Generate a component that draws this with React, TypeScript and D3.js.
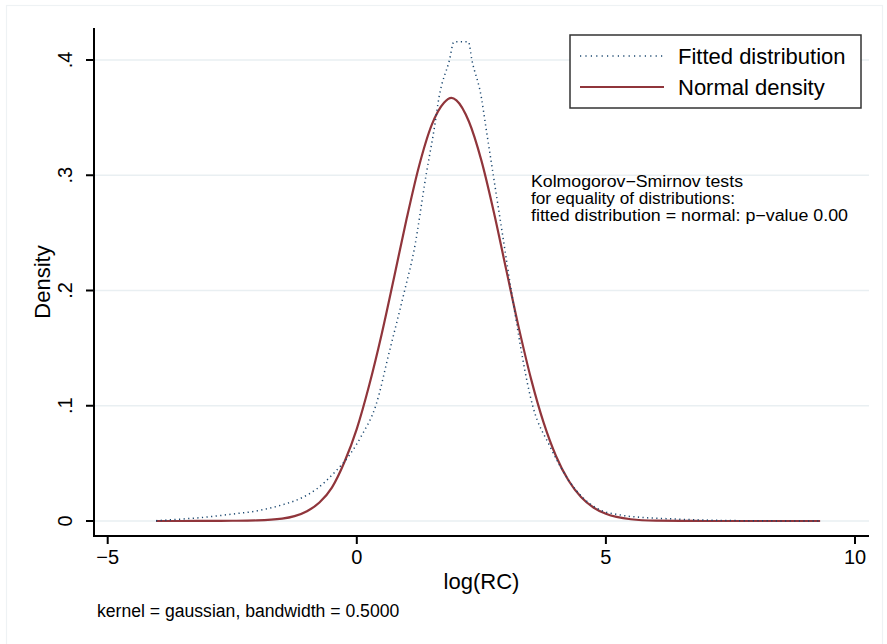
import React from 'react';
import * as d3 from 'd3';

// values
const fittedX = [-4.03, -3.5, -3.0, -2.5, -2.0, -1.5, -1.15, -0.8, -0.45, -0.15, 0.1, 0.38, 0.66, 0.96, 1.15, 1.39, 1.56, 1.65, 1.86, 1.95, 2.24, 2.31, 2.5, 2.59, 2.74, 2.92, 3.1, 3.53, 3.88, 4.25, 4.55, 4.82, 5.29, 5.69, 6.23, 7.0, 8.0, 9.3];
const fittedY = [0.0003, 0.0017, 0.0035, 0.006, 0.0088, 0.014, 0.0192, 0.028, 0.042, 0.057, 0.0744, 0.1, 0.148, 0.2, 0.235, 0.3, 0.342, 0.3676, 0.4, 0.4158, 0.4158, 0.4, 0.3676, 0.342, 0.3, 0.25, 0.2, 0.1, 0.0645, 0.0356, 0.0197, 0.011, 0.0052, 0.0032, 0.002, 0.0008, 0.0002, 0.0];

const normalX = [-4.03, -3.5, -3.0, -2.5, -2.0, -1.5, -1.25, -1.0, -0.75, -0.5, -0.25, 0, 0.25, 0.5, 0.75, 1.0, 1.25, 1.5, 1.75, 1.9, 2.0, 2.25, 2.5, 2.75, 3.0, 3.25, 3.5, 3.75, 4.0, 4.25, 4.5, 4.75, 5.0, 5.5, 6.0, 6.5, 7.0, 8.0, 9.3];
const normalY = [0, 0, 0.0001, 0.0002, 0.0005, 0.002, 0.0042, 0.0085, 0.016, 0.029, 0.051, 0.08, 0.118, 0.1623, 0.2118, 0.2622, 0.3081, 0.3433, 0.363, 0.3672, 0.365, 0.3466, 0.3129, 0.2681, 0.2179, 0.168, 0.1229, 0.0853, 0.0562, 0.0351, 0.0208, 0.0117, 0.0062, 0.0015, 0.0003, 0.0001, 0, 0, 0];

const xTicks = [-5, 0, 5, 10];
const xTickLabels = ['\u22125', '0', '5', '10'];
const yTicks = [0, 0.1, 0.2, 0.3, 0.4];
const yTickLabels = ['0', '.1', '.2', '.3', '.4'];

const seriesNames = ['Fitted distribution', 'Normal density'];
const noteLines = [
  'Kolmogorov\u2212Smirnov tests',
  'for equality of distributions:',
  'fitted distribution = normal: p\u2212value 0.00',
];
const noteWidths = [212, 204, 317];
const footnote = 'kernel = gaussian, bandwidth = 0.5000';

const W = 887;
const H = 644;
const font = '"Liberation Sans", Arial, Helvetica, sans-serif';
const blue = '#1a476f';
const red = '#90353b';
const gridColor = '#e9eff2';

export default function App() {
  const x = d3.scaleLinear().domain([-5, 10]).range([107.7, 855]);
  const y = d3.scaleLinear().domain([0, 0.4]).range([521, 60]);

  const plotLeft = 94;
  const plotRight = 869;
  const plotTop = 28;
  const plotBottom = 536;

  const fitted = fittedX.map((v, i) => [v, fittedY[i]] as [number, number]);
  const normal = normalX.map((v, i) => [v, normalY[i]] as [number, number]);

  const line = d3
    .line<[number, number]>()
    .curve(d3.curveMonotoneX)
    .x(d => x(d[0]))
    .y(d => y(d[1]));

  return (
    <svg
      width={W}
      height={H}
      style={{ position: 'absolute', left: 0, top: 0, background: '#fff' }}
      fontFamily={font}
    >
      <rect x={6.5} y={5.5} width={876} height={660} fill="#fff" stroke="#eef2f4" strokeWidth={1.2} />

      {/* grid */}
      {yTicks.map(t => (
        <line key={'g' + t} x1={plotLeft} x2={plotRight} y1={y(t)} y2={y(t)} stroke={gridColor} strokeWidth={1.5} />
      ))}

      {/* curves */}
      <path d={line(normal) || ''} fill="none" stroke={red} strokeWidth={2.2} />
      <path
        d={line(fitted) || ''}
        fill="none"
        stroke={blue}
        strokeWidth={1.5}
        strokeDasharray="1.2 3.4"
      />

      {/* axes */}
      <line x1={plotLeft} x2={plotLeft} y1={plotTop} y2={plotBottom + 1} stroke="#000" strokeWidth={2} />
      <line x1={plotLeft - 1} x2={plotRight} y1={plotBottom} y2={plotBottom} stroke="#000" strokeWidth={2} />

      {yTicks.map((t, i) => (
        <g key={'y' + t}>
          <line x1={plotLeft - 8} x2={plotLeft} y1={y(t)} y2={y(t)} stroke="#000" strokeWidth={2} />
          <text
            transform={`translate(72,${y(t)}) rotate(-90)`}
            textAnchor="middle"
            fontSize={20}
            fill="#000"
          >
            {yTickLabels[i]}
          </text>
        </g>
      ))}
      {xTicks.map((t, i) => (
        <g key={'x' + t}>
          <line x1={x(t)} x2={x(t)} y1={plotBottom} y2={plotBottom + 8} stroke="#000" strokeWidth={2} />
          <text x={x(t)} y={564} textAnchor="middle" fontSize={20} fill="#000">
            {xTickLabels[i]}
          </text>
        </g>
      ))}

      <text x={(plotLeft + plotRight) / 2} y={589} textAnchor="middle" fontSize={22} fill="#000">
        log(RC)
      </text>
      <text transform={`translate(50,${(plotTop + plotBottom) / 2}) rotate(-90)`} textAnchor="middle" fontSize={22} fill="#000">
        Density
      </text>

      {/* legend */}
      <rect x={570} y={35} width={291} height={73} fill="#fff" stroke="#333" strokeWidth={1.5} />
      <line x1={580} x2={663} y1={56} y2={56} stroke={blue} strokeWidth={1.5} strokeDasharray="1.2 4.2" />
      <line x1={580} x2={664} y1={87} y2={87} stroke={red} strokeWidth={2.2} />
      <text x={678} y={64} fontSize={22} fill="#000">{seriesNames[0]}</text>
      <text x={678} y={95} fontSize={22} fill="#000">{seriesNames[1]}</text>

      {/* KS test note */}
      {noteLines.map((s, i) => (
        <text
          key={s}
          x={531}
          y={187 + i * 17}
          fontSize={16}
          textLength={noteWidths[i]}
          lengthAdjust="spacingAndGlyphs"
          fill="#000"
        >
          {s}
        </text>
      ))}

      <text x={97} y={617} fontSize={17.6} fill="#000">
        {footnote}
      </text>
    </svg>
  );
}
